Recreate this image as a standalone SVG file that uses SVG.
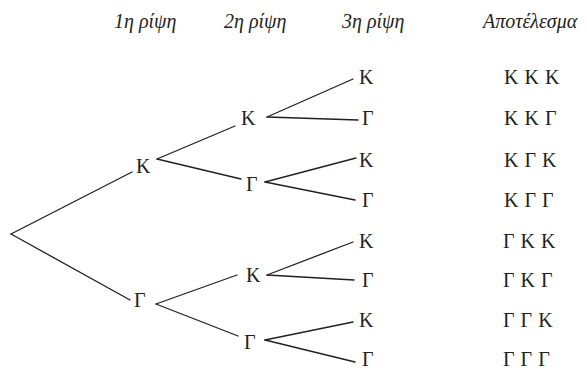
<svg xmlns="http://www.w3.org/2000/svg" width="587" height="369" viewBox="0 0 587 369">
<style>
text{font-family:"Liberation Serif","Times New Roman",serif;font-size:20px;fill:#231f20}
.h{font-style:italic}
.r{word-spacing:1px}
#edges line{stroke:#231f20;stroke-width:1.3;stroke-linecap:round}
</style>
<rect width="587" height="369" fill="#fff"/>
<g id="headers">
<text class="h" x="114" y="28">1η ρίψη</text>
<text class="h" x="224" y="28">2η ρίψη</text>
<text class="h" x="342" y="28">3η ρίψη</text>
<text class="h" x="483" y="28">Αποτέλεσμα</text>
</g>
<g id="edges">
<line x1="11" y1="234" x2="132" y2="172"/>
<line x1="11" y1="234" x2="130" y2="300"/>
<line x1="157" y1="159" x2="235" y2="126"/>
<line x1="157" y1="159" x2="241" y2="179"/>
<line x1="156" y1="304" x2="237" y2="275"/>
<line x1="156" y1="304" x2="238" y2="336"/>
<line x1="267" y1="117" x2="353" y2="79"/>
<line x1="267" y1="117" x2="358" y2="120"/>
<line x1="265" y1="182" x2="356" y2="158"/>
<line x1="265" y1="182" x2="355" y2="200"/>
<line x1="267" y1="275" x2="353" y2="242"/>
<line x1="267" y1="275" x2="354" y2="280"/>
<line x1="265" y1="340" x2="353" y2="322"/>
<line x1="265" y1="340" x2="355" y2="362"/>
</g>
<g id="n-K"><text x="136" y="173">Κ</text></g>
<g id="n-G"><text x="134" y="307">Γ</text></g>
<g id="n-KK"><text x="241" y="125">Κ</text></g>
<g id="n-KG"><text x="246" y="191">Γ</text></g>
<g id="n-GK"><text x="246" y="282">Κ</text></g>
<g id="n-GG"><text x="244" y="349">Γ</text></g>
<g id="n-KKK"><text x="359" y="84">Κ</text></g>
<g id="n-KKG"><text x="362" y="125">Γ</text></g>
<g id="n-KGK"><text x="359" y="167">Κ</text></g>
<g id="n-KGG"><text x="362" y="207">Γ</text></g>
<g id="n-GKK"><text x="359" y="248">Κ</text></g>
<g id="n-GKG"><text x="362" y="287">Γ</text></g>
<g id="n-GGK"><text x="359" y="327">Κ</text></g>
<g id="n-GGG"><text x="362" y="366">Γ</text></g>
<g id="results">
<text class="r" x="504" y="84">Κ Κ Κ</text>
<text class="r" x="504" y="125">Κ Κ Γ</text>
<text class="r" x="504" y="167">Κ Γ Κ</text>
<text class="r" x="504" y="207">Κ Γ Γ</text>
<text class="r" x="503" y="248">Γ Κ Κ</text>
<text class="r" x="503" y="287">Γ Κ Γ</text>
<text class="r" x="503" y="327">Γ Γ Κ</text>
<text class="r" x="503" y="366">Γ Γ Γ</text>
</g>
</svg>
